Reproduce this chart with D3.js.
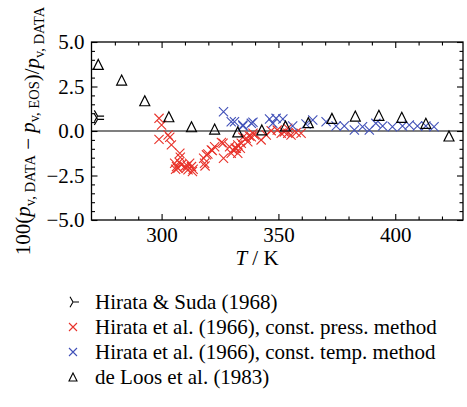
<!DOCTYPE html>
<html>
<head>
<meta charset="utf-8">
<script src="https://cdn.jsdelivr.net/npm/d3@7"></script>
<style>
  html, body { margin: 0; padding: 0; background: #fff; }
  svg { display: block; }
  text { font-family: "Liberation Serif", "Times New Roman", serif; fill: #000; }
</style>
</head>
<body>
<svg id="chart" width="467" height="407"></svg>
<script>
// Hirata & Suda (1968)
const hirataSudaT = [272.6, 272.6];
const hirataSudaDev = [0.84, 0.65];

// Hirata et al. (1966), constant-pressure method
const hirataPressT = [298.9, 300.0, 298.9, 302.8, 303.5, 304.2, 307.8, 308.0, 305.6, 306.4,
  307.0, 308.5, 309.9, 311.3, 312.8, 313.2, 312.0, 318.0, 318.4, 318.6,
  319.8, 321.7, 322.7, 326.3, 326.5, 329.1, 330.5, 331.5, 329.8, 332.0,
  334.1, 336.2, 337.6, 339.8, 342.6, 344.8, 346.9, 351.2, 354.0, 355.4,
  357.6, 359.7, 354.0, 334.8, 336.9, 332.6, 338.4, 325.6, 319.2, 321.3,
  332.6, 333.7, 339.1, 306.0, 310.5, 313.5, 307.5, 311.0, 349.5, 352.5];
const hirataPressDev = [0.71, 0.34, -0.47, -0.22, -0.35, -0.78, -1.25, -1.47, -1.81, -2.00,
  -2.09, -1.90, -2.00, -2.18, -2.00, -2.28, -1.81, -1.53, -1.81, -1.96,
  -1.29, -1.10, -0.88, -0.69, -1.53, -0.88, -1.06, -0.97, -1.25, -0.97,
  -0.69, -0.41, -0.28, -0.22, -0.50, -0.22, 0.02, -0.13, -0.13, -0.22,
  -0.09, -0.13, 0.15, -0.35, -0.60, -0.78, -0.32, -0.65, -1.34, -1.06,
  -1.25, -0.97, -0.13, -2.15, -2.10, -2.15, -1.75, -1.95, 0.05, -0.05];

// Hirata et al. (1966), constant-temperature method
const hirataTempT = [326.5, 331.2, 329.8, 334.8, 338.4, 334.8, 339.1, 346.2, 349.0, 351.9,
  347.6, 356.1, 364.7, 361.8, 370.4, 374.7, 378.2, 382.5, 386.0, 388.9,
  391.7, 394.6, 398.8, 403.1, 406.0, 409.5, 413.1, 416.6];
const hirataTempDev = [1.08, 0.52, 0.52, 0.34, 0.43, 0.28, 0.49, 0.67, 0.71, 0.67,
  0.43, 0.28, 0.62, 0.39, 0.52, 0.28, 0.28, 0.06, 0.24, 0.06,
  0.43, 0.28, 0.24, 0.28, 0.34, 0.28, 0.28, 0.24];

// de Loos et al. (1983)
const deLoosT = [272.9, 282.9, 292.8, 303.1, 312.8, 322.7, 332.6, 342.9, 353.0, 362.8,
  372.9, 382.9, 393.0, 402.8, 413.1, 423.0];
const deLoosDev = [3.74, 2.86, 1.70, 0.80, 0.24, 0.11, -0.05, 0.06, 0.28, 0.47,
  0.71, 0.84, 0.88, 0.77, 0.43, -0.28];

const xMajorTicks = [300, 350, 400];
const yMajorTicks = [-5, -2.5, 0, 2.5, 5];

const legendLabels = [
  "Hirata & Suda (1968)",
  "Hirata et al. (1966), const. press. method",
  "Hirata et al. (1966), const. temp. method",
  "de Loos et al. (1983)"
];

const RED = "#e8322a";
const BLUE = "#4050b8";
const FONT = 21;

const svg = d3.select("#chart");
const plot = { left: 91.5, right: 463, top: 42, bottom: 220 };

const x = d3.scaleLinear().domain([270, 429]).range([plot.left, plot.right]);
const y = d3.scaleLinear().domain([-5, 5]).range([plot.bottom, plot.top]);

const xMinor = d3.range(280, 429, 10).filter(t => !xMajorTicks.includes(t));
const yMinor = d3.range(-4.5, 5, 0.5).filter(v => !yMajorTicks.includes(v));
const fmtY = d3.format(".1f");

function styleAxis(g) {
  g.select(".domain").remove();
  g.selectAll(".tick line").attr("stroke", "#000").attr("stroke-width", 1.1);
  g.selectAll(".tick text").attr("font-size", FONT).attr("font-family", "Liberation Serif, serif");
}

// bottom axis: major labelled ticks and minor ticks, pointing inward
svg.append("g").attr("transform", `translate(0,${plot.bottom})`)
  .call(d3.axisBottom(x).tickValues(xMajorTicks).tickSize(-6).tickPadding(7).tickFormat(d3.format("d")))
  .call(styleAxis);
svg.append("g").attr("transform", `translate(0,${plot.bottom})`)
  .call(d3.axisBottom(x).tickValues(xMinor).tickSize(-3.5).tickFormat(""))
  .call(styleAxis);
// top axis
svg.append("g").attr("transform", `translate(0,${plot.top})`)
  .call(d3.axisTop(x).tickValues(xMajorTicks).tickSize(-6).tickFormat(""))
  .call(styleAxis);
svg.append("g").attr("transform", `translate(0,${plot.top})`)
  .call(d3.axisTop(x).tickValues(xMinor).tickSize(-3.5).tickFormat(""))
  .call(styleAxis);
// left axis
svg.append("g").attr("transform", `translate(${plot.left},0)`)
  .call(d3.axisLeft(y).tickValues(yMajorTicks).tickSize(-6).tickPadding(7).tickFormat(fmtY))
  .call(styleAxis);
svg.append("g").attr("transform", `translate(${plot.left},0)`)
  .call(d3.axisLeft(y).tickValues(yMinor).tickSize(-3.5).tickFormat(""))
  .call(styleAxis);
// right axis
svg.append("g").attr("transform", `translate(${plot.right},0)`)
  .call(d3.axisRight(y).tickValues(yMajorTicks).tickSize(-6).tickFormat(""))
  .call(styleAxis);
svg.append("g").attr("transform", `translate(${plot.right},0)`)
  .call(d3.axisRight(y).tickValues(yMinor).tickSize(-3.5).tickFormat(""))
  .call(styleAxis);

// frame
svg.append("rect")
  .attr("x", plot.left).attr("y", plot.top)
  .attr("width", plot.right - plot.left).attr("height", plot.bottom - plot.top)
  .attr("fill", "none").attr("stroke", "#000").attr("stroke-width", 1.3);

// zero line
svg.append("line")
  .attr("x1", plot.left).attr("x2", plot.right)
  .attr("y1", y(0)).attr("y2", y(0))
  .attr("stroke", "#000").attr("stroke-width", 1.1);

// marker shapes
function crossPath(r) {
  return `M${-r},${-r}L${r},${r}M${-r},${r}L${r},${-r}`;
}
function triRightPath(r) {
  const a = r * 0.5, b = r * 0.866;
  return `M0,0L${r},0M0,0L${-a},${-b}M0,0L${-a},${b}`;
}
function triUpPath(r) {
  return `M0,${-r}L${r},${r}L${-r},${r}Z`;
}

const plotG = svg.append("g");

function drawSeries(Ts, devs, path, stroke, fill, width) {
  plotG.append("g").selectAll("path")
    .data(d3.zip(Ts, devs))
    .join("path")
    .attr("transform", d => `translate(${x(d[0])},${y(d[1])})`)
    .attr("d", path)
    .attr("fill", fill)
    .attr("stroke", stroke)
    .attr("stroke-width", width);
}

drawSeries(hirataPressT, hirataPressDev, crossPath(4.6), RED, "none", 1.1);
drawSeries(hirataTempT, hirataTempDev, crossPath(4.6), BLUE, "none", 1.1);
drawSeries(deLoosT, deLoosDev, triUpPath(5), "#000", "none", 1.2);
drawSeries(hirataSudaT, hirataSudaDev, triRightPath(6.5), "#000", "none", 1.2);

// axis titles
const xt = svg.append("text")
  .attr("x", 257).attr("y", 265)
  .attr("text-anchor", "middle").attr("font-size", FONT);
xt.append("tspan").attr("font-style", "italic").text("T");
xt.append("tspan").text(" / K");

const yt = svg.append("text")
  .attr("transform", `translate(30,${(plot.top + plot.bottom) / 2}) rotate(-90)`)
  .attr("text-anchor", "middle").attr("font-size", FONT);
function pv(sub) {
  yt.append("tspan").attr("font-style", "italic").text("p");
  yt.append("tspan").attr("font-size", 14.5).attr("dy", 4.5).text(sub);
  yt.append("tspan").attr("dy", -4.5).text("");
}
yt.append("tspan").text("100(");
pv("v, DATA");
yt.append("tspan").text(" − ");
pv("v, EOS");
yt.append("tspan").text(")/");
pv("v, DATA");

// legend
const legendMarkers = [
  { path: triRightPath(6), stroke: "#000" },
  { path: crossPath(4), stroke: RED },
  { path: crossPath(4), stroke: BLUE },
  { path: triUpPath(4), stroke: "#000" }
];
const legend = svg.append("g");
legendLabels.forEach((lab, i) => {
  const cy = 302 + i * 25;
  legend.append("path")
    .attr("transform", `translate(73,${cy})`)
    .attr("d", legendMarkers[i].path)
    .attr("fill", "none").attr("stroke", legendMarkers[i].stroke).attr("stroke-width", 1.1);
  legend.append("text")
    .attr("x", 95).attr("y", cy + 7)
    .attr("font-size", FONT)
    .text(lab);
});
</script>
</body>
</html>
